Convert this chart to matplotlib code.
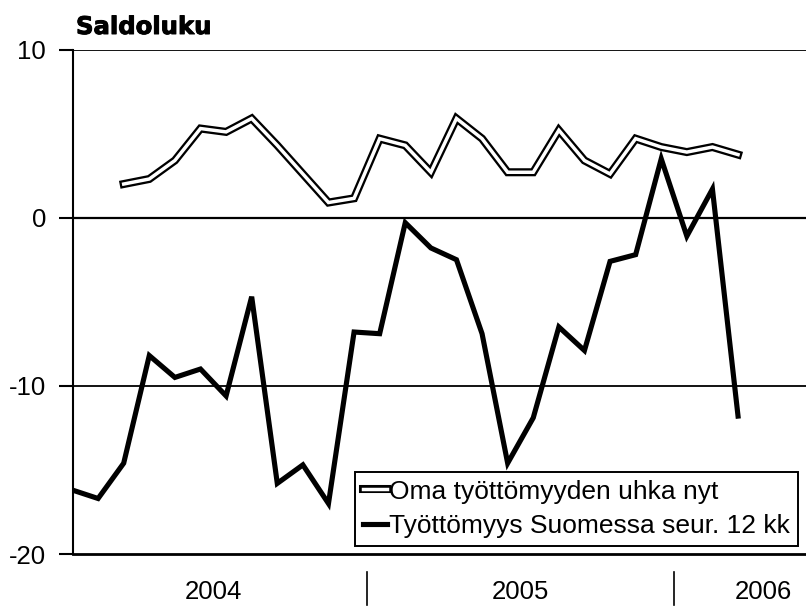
import numpy as np
import matplotlib
matplotlib.use('Agg')
import matplotlib.pyplot as plt
import matplotlib.patheffects as pe
import matplotlib.transforms as mtransforms

# Monthly values, Jan 2004 - Mar 2006
months = ['2004-01', '2004-02', '2004-03', '2004-04', '2004-05', '2004-06',
          '2004-07', '2004-08', '2004-09', '2004-10', '2004-11', '2004-12',
          '2005-01', '2005-02', '2005-03', '2005-04', '2005-05', '2005-06',
          '2005-07', '2005-08', '2005-09', '2005-10', '2005-11', '2005-12',
          '2006-01', '2006-02', '2006-03']
oma_uhka = [np.nan, np.nan, 2.0, 2.3, 3.4, 5.3, 5.1, 5.9, 4.3, 2.6, 0.9, 1.15,
            4.7, 4.3, 2.7, 5.9, 4.7, 2.7, 2.7, 5.2, 3.4, 2.6, 4.7, 4.2,
            3.9, 4.2, 3.75]
suomi_12kk = [-16.2, -16.7, -14.6, -8.2, -9.5, -9.0, -10.6, -4.7, -15.8, -14.7,
              -17.0, -6.8, -6.9, -0.3, -1.8, -2.5, -6.9, -14.6, -11.9, -6.5,
              -7.9, -2.6, -2.2, 3.5, -1.1, 1.7, -11.8]
labels = ['Oma työttömyyden uhka nyt', 'Työttömyys Suomessa seur. 12 kk']
years = ['2004', '2005', '2006']
year_bounds = [-0.5, 11.5, 23.5, 30.5]   # category group edges on the x axis
yticks = [10, 0, -10, -20]

plt.rcParams.update({'font.family': 'Liberation Sans', 'font.size': 18})

W, H = 806, 609
fig = plt.figure(figsize=(W / 100, H / 100), dpi=100)
x0, x1 = 72.5, W
ytop, ybot = 49.5, 554
ax = fig.add_axes([x0 / W, 1 - ybot / H, (x1 - x0) / W, (ybot - ytop) / H])

x = np.arange(len(months))
px_per_month = 25.58
ax.set_xlim(0, (x1 - 73) / px_per_month)
ax.set_ylim(-20, 10)

# gridlines
for v in [10, 0, -10]:
    ax.axhline(v, color='black', linewidth=1.3 if v else 1.6, zorder=1)

ax.plot(x, oma_uhka, color='white', linewidth=2.5, solid_joinstyle='miter',
        path_effects=[pe.Stroke(linewidth=5.8, foreground='black'), pe.Normal()],
        label=labels[0], zorder=3)
ax.plot(x, suomi_12kk, color='black', linewidth=3.7, solid_joinstyle='miter',
        label=labels[1], zorder=4)

for s in ['top', 'right']:
    ax.spines[s].set_visible(False)
ax.spines['left'].set_linewidth(1.5)
ax.spines['bottom'].set_linewidth(2.0)

ax.set_yticks(yticks)
ax.set_yticklabels([str(t) for t in yticks])
ax.tick_params(axis='y', length=10, width=1.5, pad=9, labelsize=18.5)
ax.set_xticks([])

# year labels and group dividers below the axis
trans = mtransforms.blended_transform_factory(ax.transData, ax.transAxes)
for i, yr in enumerate(years):
    c = (year_bounds[i] + year_bounds[i + 1]) / 2
    ax.text(c, -0.075, yr, transform=trans, ha='center', va='center',
            fontsize=18.5, clip_on=False)
for b in year_bounds[1:-1]:
    ax.plot([b, b], [-0.036, -0.102], transform=trans, color='black',
            linewidth=1.2, clip_on=False)

fig.text(76 / W, 1 - 27 / H, 'Saldoluku', family='DejaVu Sans',
         fontweight='bold', fontsize=17.5, ha='left', va='center',
         path_effects=[pe.withStroke(linewidth=0.7, foreground='black')])

leg = ax.legend(loc='lower right', bbox_to_anchor=(798 / W, 1 - 546 / H),
                bbox_transform=fig.transFigure, borderaxespad=0,
                fancybox=False, framealpha=1, edgecolor='black',
                handlelength=0.9, handletextpad=0.08, borderpad=0.3,
                labelspacing=0.4, fontsize=19)
leg.get_frame().set_linewidth(1.4)
leg.set_zorder(5)

fig.savefig('out.png', dpi=100)
